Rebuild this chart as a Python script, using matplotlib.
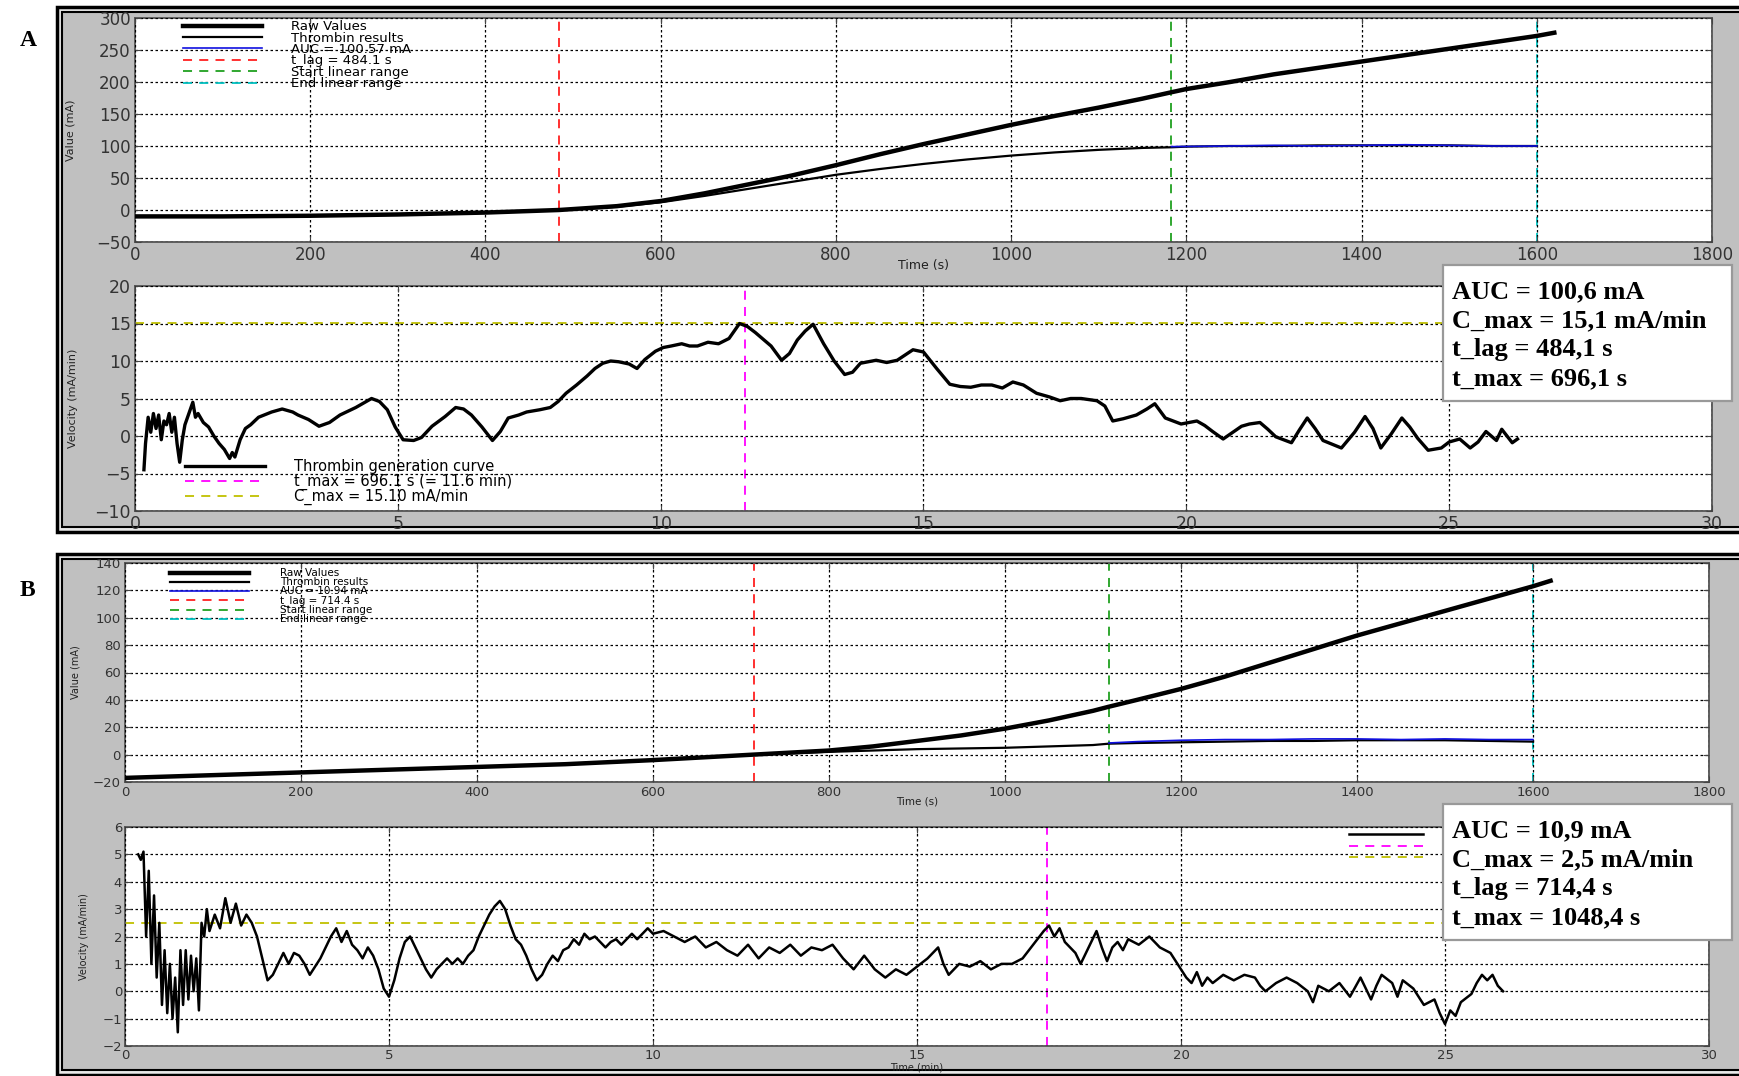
import matplotlib
matplotlib.use("Agg")
import numpy as np
import matplotlib.pyplot as plt
from matplotlib.patches import Rectangle

# ---- panel A : raw values / thrombin results (time in s) ----
a_time = [0, 100, 200, 300, 400, 484, 550, 600, 650, 700, 750, 800, 850, 900, 950,
          1000, 1050, 1100, 1150, 1183, 1200, 1250, 1300, 1350, 1400, 1450, 1500,
          1550, 1600, 1620]
a_raw = [-10, -10, -9, -7, -4, 0, 6, 14, 26, 40, 54, 70, 87, 103, 118,
         133, 147, 160, 174, 184, 189, 200, 212, 222, 232, 242, 252,
         262, 272, 277]
a_result = [-10, -10, -9, -7, -4, 0, 5, 12, 22, 33, 44, 55, 64, 72, 79,
            85, 90, 94, 97, 98, 99, 100, 100, 101, 101, 101, 101,
            100, 100, np.nan]
a_auc_time = [1183, 1250, 1300, 1350, 1400, 1450, 1500, 1550, 1600]
a_auc = [99, 100, 101, 100, 101, 102, 101, 100, 100]
a_tlag, a_start, a_end = 484.1, 1183, 1600

# panel A : velocity (time in min)
a_vel_t = [0.17, 0.2, 0.25, 0.3, 0.35, 0.4, 0.45, 0.5, 0.55, 0.6, 0.65, 0.7, 0.75,
           0.8, 0.85, 0.9, 0.95, 1.0, 1.05, 1.1, 1.15, 1.2, 1.3, 1.4, 1.5, 1.6,
           1.7, 1.8, 1.85, 1.9, 2.0, 2.1, 2.2, 2.35, 2.6, 2.8, 3.0, 3.1, 3.3, 3.5,
           3.7, 3.9, 4.2, 4.5, 4.65, 4.8, 4.95, 5.1, 5.3, 5.45, 5.65, 5.9, 6.1,
           6.25, 6.4, 6.6, 6.8, 6.95, 7.1, 7.3, 7.45, 7.7, 7.9, 8.05, 8.2, 8.4,
           8.6, 8.75, 8.9, 9.05, 9.2, 9.4, 9.55, 9.7, 9.9, 10.05, 10.2, 10.4,
           10.55, 10.7, 10.9, 11.1, 11.3, 11.5, 11.65, 11.8, 12.1, 12.3, 12.45,
           12.6, 12.75, 12.9, 13.1, 13.3, 13.5, 13.65, 13.8, 14.1, 14.3, 14.5,
           14.8, 15.0, 15.25, 15.5, 15.7, 15.9, 16.1, 16.3, 16.5, 16.7, 16.9,
           17.15, 17.4, 17.6, 17.8, 18.0, 18.3, 18.45, 18.6, 18.8, 19.05, 19.25,
           19.4, 19.6, 19.9, 20.2, 20.35, 20.5, 20.7, 21.05, 21.2, 21.4, 21.55,
           21.7, 22.0, 22.15, 22.3, 22.45, 22.6, 22.95, 23.2, 23.4, 23.55, 23.7,
           23.9, 24.1, 24.25, 24.4, 24.6, 24.85, 25.0, 25.2, 25.4, 25.55, 25.7,
           25.9, 26.0, 26.2, 26.3]
a_vel = [-4.5, -1, 2.5, 0.5, 3, 1, 2.8, -0.5, 2, 1.5, 3, 0.5, 2.5,
         -1, -3.5, -0.5, 1.5, 2.5, 3.5, 4.5, 2.5, 3.0, 1.8, 1.2, 0, -1,
         -1.8, -3.0, -2.2, -2.8, -0.5, 1.0, 1.5, 2.5, 3.2, 3.6, 3.2, 2.8, 2.2, 1.3,
         1.8, 2.8, 3.8, 5.0, 4.6, 3.5, 1.2, -0.5, -0.6, -0.2, 1.3, 2.6, 3.8,
         3.6, 2.8, 1.2, -0.6, 0.6, 2.4, 2.8, 3.2, 3.5, 3.8, 4.6, 5.7, 6.8,
         8.0, 9.0, 9.7, 10.0, 9.9, 9.6, 9.0, 10.2, 11.3, 11.8, 12.0, 12.3,
         12.0, 12.0, 12.5, 12.3, 13.0, 15.0, 14.6, 13.8, 12.0, 10.1, 11.0,
         12.8, 14.0, 14.9, 12.3, 10.0, 8.2, 8.5, 9.7, 10.1, 9.8, 10.1,
         11.5, 11.2, 9.0, 6.9, 6.6, 6.5, 6.8, 6.8, 6.4, 7.2, 6.8,
         5.7, 5.2, 4.7, 5.0, 5.0, 4.7, 4.0, 2.0, 2.3, 2.8, 3.6,
         4.3, 2.4, 1.6, 2.0, 1.4, 0.6, -0.4, 1.3, 1.6, 1.8, 0.9,
         -0.1, -0.9, 0.8, 2.4, 1.0, -0.6, -1.6, 0.5, 2.6, 1.0, -1.6,
         0.3, 2.4, 1.2, -0.3, -1.9, -1.6, -0.8, -0.4, -1.6, -0.8, 0.6,
         -0.6, 0.9, -0.9, -0.4]
a_tmax_min, a_cmax = 11.6, 15.10

# ---- panel B ----
b_time = [0, 100, 200, 300, 400, 500, 600, 714, 800, 850, 900, 950, 1000, 1050,
          1100, 1118, 1150, 1200, 1250, 1300, 1350, 1400, 1450, 1500, 1550, 1600, 1620]
b_raw = [-17, -15, -13, -11, -9, -7, -4, 0, 3, 6, 10, 14, 19, 25,
         32, 35, 40, 48, 57, 67, 77, 87, 96, 105, 114, 123, 127]
b_result = [-17, -15, -13, -11, -9, -7, -4, 0, 2, 3, 4, 4.5, 5, 6,
            7, 8, 8.5, 9, 9.5, 10, 10, 10.5, 10.5, 10.5, 10, 9.5, np.nan]
b_auc_time = [1118, 1150, 1200, 1250, 1300, 1350, 1400, 1450, 1500, 1550, 1600]
b_auc = [8.5, 9.5, 10.5, 11, 11, 11.5, 11.5, 11, 11.5, 11, 11]
b_tlag, b_start, b_end = 714.4, 1118, 1600

b_vel_t = [0.25, 0.3, 0.35, 0.4, 0.45, 0.5, 0.55, 0.6, 0.65, 0.7, 0.75, 0.8, 0.85,
           0.9, 0.95, 1.0, 1.05, 1.1, 1.15, 1.2, 1.25, 1.3, 1.35, 1.4, 1.45, 1.5,
           1.55, 1.6, 1.7, 1.8, 1.9, 2.0, 2.1, 2.2, 2.3, 2.4, 2.5, 2.6, 2.7, 2.8,
           2.9, 3.0, 3.1, 3.2, 3.3, 3.4, 3.5, 3.6, 3.7, 3.8, 3.9, 4.0, 4.1, 4.2,
           4.3, 4.4, 4.5, 4.6, 4.7, 4.8, 4.9, 5.0, 5.1, 5.2, 5.3, 5.4, 5.5, 5.6,
           5.7, 5.8, 5.9, 6.0, 6.1, 6.2, 6.3, 6.4, 6.5, 6.6, 6.7, 6.8, 6.9, 7.0,
           7.1, 7.2, 7.3, 7.4, 7.5, 7.6, 7.7, 7.8, 7.9, 8.0, 8.1, 8.2, 8.3, 8.4,
           8.5, 8.6, 8.7, 8.8, 8.9, 9.0, 9.1, 9.2, 9.3, 9.4, 9.5, 9.6, 9.7, 9.8,
           9.9, 10.0, 10.2, 10.4, 10.6, 10.8, 11.0, 11.2, 11.4, 11.6, 11.8, 12.0,
           12.2, 12.4, 12.6, 12.8, 13.0, 13.2, 13.4, 13.6, 13.8, 14.0, 14.2, 14.4,
           14.6, 14.8, 15.0, 15.2, 15.4, 15.5, 15.6, 15.8, 16.0, 16.2, 16.4, 16.6,
           16.8, 17.0, 17.2, 17.4, 17.5, 17.6, 17.7, 17.8, 18.0, 18.1, 18.2, 18.4,
           18.5, 18.6, 18.7, 18.8, 18.9, 19.0, 19.2, 19.4, 19.6, 19.8, 19.9, 20.0,
           20.1, 20.2, 20.3, 20.4, 20.5, 20.6, 20.8, 21.0, 21.2, 21.4, 21.5, 21.6,
           21.8, 22.0, 22.2, 22.4, 22.5, 22.6, 22.8, 23.0, 23.2, 23.4, 23.6, 23.7,
           23.8, 24.0, 24.1, 24.2, 24.4, 24.6, 24.8, 24.9, 25.0, 25.1, 25.2, 25.3,
           25.5, 25.6, 25.7, 25.8, 25.9, 26.0, 26.1]
b_vel = [5.0, 4.8, 5.1, 2.0, 4.4, 1.0, 3.5, 0.5, 2.5, -0.5, 1.5, -0.8, 1.0,
         -1.0, 0.5, -1.5, 1.5, -0.5, 1.5, -0.3, 1.3, 0.0, 1.2, -0.7, 2.5, 2.0,
         3.0, 2.2, 2.8, 2.3, 3.4, 2.5, 3.2, 2.4, 2.8, 2.5, 2.0, 1.2, 0.4, 0.6,
         1.0, 1.4, 1.0, 1.4, 1.3, 1.0, 0.6, 0.9, 1.2, 1.6, 2.0, 2.3, 1.8, 2.2,
         1.7, 1.5, 1.2, 1.6, 1.3, 0.8, 0.1, -0.2, 0.4, 1.2, 1.8, 2.0, 1.6, 1.2,
         0.8, 0.5, 0.8, 1.0, 1.2, 1.0, 1.2, 1.0, 1.3, 1.5, 2.0, 2.4, 2.8, 3.1,
         3.3, 3.0, 2.4, 1.9, 1.7, 1.3, 0.8, 0.4, 0.6, 1.0, 1.3, 1.1, 1.5, 1.6,
         1.9, 1.7, 2.1, 1.9, 2.0, 1.8, 1.6, 1.8, 1.9, 1.7, 1.9, 2.1, 1.9, 2.1,
         2.3, 2.1, 2.2, 2.0, 1.8, 2.0, 1.6, 1.8, 1.5, 1.3, 1.7, 1.2,
         1.6, 1.4, 1.7, 1.3, 1.6, 1.5, 1.7, 1.2, 0.8, 1.3, 0.8, 0.5,
         0.8, 0.6, 0.9, 1.2, 1.6, 1.0, 0.6, 1.0, 0.9, 1.1, 0.8, 1.0,
         1.0, 1.2, 1.7, 2.2, 2.4, 2.0, 2.3, 1.8, 1.4, 1.0, 1.4, 2.2,
         1.6, 1.1, 1.6, 1.8, 1.5, 1.9, 1.7, 2.0, 1.6, 1.4, 1.1, 0.8,
         0.5, 0.3, 0.7, 0.2, 0.5, 0.3, 0.6, 0.4, 0.6, 0.5, 0.2, 0.0,
         0.3, 0.5, 0.3, 0.0, -0.4, 0.2, 0.0, 0.3, -0.2, 0.5, -0.3, 0.2,
         0.6, 0.3, -0.2, 0.4, 0.1, -0.5, -0.3, -0.8, -1.2, -0.7, -0.9, -0.4,
         -0.1, 0.3, 0.6, 0.4, 0.6, 0.2, 0.0]
b_tmax_min, b_cmax = 17.47, 2.50

box_a = "AUC = 100,6 mA\nC_max = 15,1 mA/min\nt_lag = 484,1 s\nt_max = 696,1 s"
box_b = "AUC = 10,9 mA\nC_max = 2,5 mA/min\nt_lag = 714,4 s\nt_max = 1048,4 s"

W, H = 1740, 1076
GRAY = "#c0c0c0"

fig = plt.figure(figsize=(W / 100, H / 100), dpi=100)


def frac(x0, y0, x1, y1):
    return [x0 / W, 1 - y1 / H, (x1 - x0) / W, (y1 - y0) / H]


def frame(y0, y1):
    fig.add_artist(Rectangle((57 / W, 1 - y1 / H), (W + 20) / W, (y1 - y0) / H,
                             transform=fig.transFigure, fc="#e8e8e8", ec="black",
                             lw=2.5, zorder=-5))
    fig.add_artist(Rectangle((62 / W, 1 - (y1 - 5) / H), (W + 20) / W, (y1 - y0 - 10) / H,
                             transform=fig.transFigure, fc=GRAY, ec="black",
                             lw=1.5, zorder=-4))


def style(ax, fs, pad=3):
    ax.set_facecolor("white")
    ax.tick_params(direction="in", length=4, top=True, right=True,
                   labelsize=fs, labelcolor="#333333", color="#444444", pad=pad)
    for s in ax.spines.values():
        s.set_color("#555555")
        s.set_linewidth(1.3)
    ax.grid(True, color="black", ls=(0, (2, 2)), lw=0.9)
    ax.set_axisbelow(False)


def value_plot(ax, t, raw, res, auc_t, auc, tlag, start, end, auc_lbl, tlag_lbl):
    ax.plot(t, raw, color="black", lw=3.2, label="Raw Values", zorder=3)
    ax.plot(t, res, color="black", lw=1.6, label="Thrombin results", zorder=3)
    ax.plot(auc_t, auc, color="#1010e0", lw=1.2, label=auc_lbl, zorder=4)
    ax.axvline(tlag, color="#ff2020", ls="--", dashes=(5, 4), lw=1.3, label=tlag_lbl)
    ax.axvline(start, color="#20a020", ls="--", dashes=(5, 4), lw=1.3, label="Start linear range")
    ax.axvline(end, color="#00c0c0", ls="--", dashes=(5, 4), lw=1.3, label="End linear range")
    ax.set_xlim(0, 1800)
    ax.set_xticks(range(0, 1801, 200))


frame(7, 532)
frame(554, 1075)

fig.text(20 / W, 1 - 41 / H, "A", family="Liberation Serif", weight="bold",
         fontsize=17, va="center", ha="left")
fig.text(20 / W, 1 - 590 / H, "B", family="Liberation Serif", weight="bold",
         fontsize=17, va="center", ha="left")

# ---- A top ----
ax1 = fig.add_axes(frac(135, 18, 1712, 242))
style(ax1, 12)
value_plot(ax1, a_time, a_raw, a_result, a_auc_time, a_auc, a_tlag, a_start, a_end,
           "AUC = 100.57 mA", "t_lag = 484.1 s")
ax1.set_ylim(-50, 300)
ax1.set_yticks(range(-50, 301, 50))
ax1.set_xlabel("Time (s)", fontsize=9, color="#222222")
ax1.xaxis.set_label_coords(0.5, -0.075)
ax1.set_ylabel("Value (mA)", fontsize=8, color="#222222")
ax1.yaxis.set_label_coords(-0.038, 0.5)
ax1.legend(loc="upper left", bbox_to_anchor=(0.0304, 0.99), frameon=False, fontsize=9.5,
           handlelength=6.0, handletextpad=2.2, labelspacing=-0.12, borderpad=0,
           borderaxespad=0)

# ---- A bottom ----
ax2 = fig.add_axes(frac(135, 286, 1712, 511))
style(ax2, 12.5)
ax2.plot(a_vel_t, a_vel, color="black", lw=2.4, label="Thrombin generation curve", zorder=3)
ax2.axvline(a_tmax_min, color="#ff00ff", ls="--", dashes=(5, 4), lw=1.3,
            label="t_max = 696.1 s (= 11.6 min)")
ax2.axhline(a_cmax, color="#c0c000", ls="--", dashes=(5, 4), lw=1.3,
            label="C_max = 15.10 mA/min")
ax2.set_xlim(0, 30)
ax2.set_ylim(-10, 20)
ax2.set_yticks(range(-10, 21, 5))
ax2.set_ylabel("Velocity (mA/min)", fontsize=8, color="#222222")
ax2.yaxis.set_label_coords(-0.036, 0.5)
ax2.legend(loc="lower left", bbox_to_anchor=(0.0317, 0.025), frameon=False, fontsize=10.5,
           handlelength=5.5, handletextpad=2.0, labelspacing=-0.05, borderpad=0,
           borderaxespad=0)

# ---- B top ----
ax3 = fig.add_axes(frac(125, 563, 1709, 782))
style(ax3, 9.5)
value_plot(ax3, b_time, b_raw, b_result, b_auc_time, b_auc, b_tlag, b_start, b_end,
           "AUC = 10.94 mA", "t_lag = 714.4 s")
ax3.set_ylim(-20, 140)
ax3.set_yticks(range(-20, 141, 20))
ax3.set_xlabel("Time (s)", fontsize=7.5, color="#222222")
ax3.xaxis.set_label_coords(0.5, -0.064)
ax3.set_ylabel("Value (mA)", fontsize=7, color="#222222")
ax3.yaxis.set_label_coords(-0.028, 0.5)
ax3.legend(loc="upper left", bbox_to_anchor=(0.0284, 0.975), frameon=False, fontsize=7.5,
           handlelength=7.6, handletextpad=3.0, labelspacing=-0.1, borderpad=0,
           borderaxespad=0)

# ---- B bottom ----
ax4 = fig.add_axes(frac(125, 827, 1709, 1046))
style(ax4, 9.5, pad=2)
ax4.plot(b_vel_t, b_vel, color="black", lw=1.8, zorder=3)
ax4.axvline(b_tmax_min, color="#ff00ff", ls="--", dashes=(5, 4), lw=1.3)
ax4.axhline(b_cmax, color="#c0c000", ls="--", dashes=(5, 4), lw=1.3)
ax4.set_xlim(0, 30)
ax4.set_ylim(-2, 6)
ax4.set_yticks(range(-2, 7, 1))
ax4.set_xlabel("Time (min)", fontsize=7, color="#222222")
ax4.xaxis.set_label_coords(0.5, -0.075)
ax4.set_ylabel("Velocity (mA/min)", fontsize=7, color="#222222")
ax4.yaxis.set_label_coords(-0.023, 0.5)
# legend labels are hidden under the summary box in the original
ax4.legend(ax4.get_lines(), [" ", " ", " "], loc="upper left",
           bbox_to_anchor=(0.773, 0.985), frameon=False, fontsize=8,
           handlelength=6.6, handletextpad=2.0, labelspacing=0.1, borderpad=0,
           borderaxespad=0)

# ---- summary boxes ----
for y0, txt in [(265, box_a), (804, box_b)]:
    fig.add_artist(Rectangle((1443 / W, 1 - (y0 + 136) / H), 289 / W, 136 / H,
                             transform=fig.transFigure, fc="white", ec="#999999",
                             lw=1.6, zorder=10))
    fig.text(1452 / W, 1 - (y0 + 70) / H, txt, family="Liberation Serif", weight="bold",
             fontsize=19, va="center", ha="left", linespacing=1.33, zorder=11)

fig.savefig("out.png", dpi=100)
